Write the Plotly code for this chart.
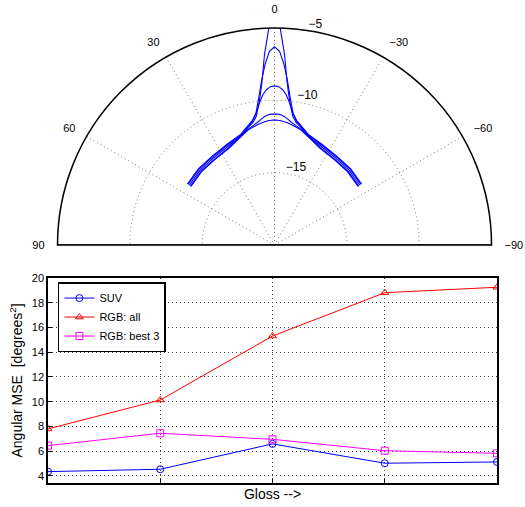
import plotly.graph_objects as go

# ---------------- polar data (dB-like values), half curves (symmetric) ----------------
half_theta = [0, 1.5, 3, 4.5, 6, 8, 10, 13, 17, 25, 35, 45, 55]
curve1 = [-3.5, -5.0, -6.8, -8.8, -10.0, -11.0, -11.4, -11.7, -12.05, -12.35, -12.55, -12.6, -12.7]
curve2 = [-6.3, -6.6, -7.5, -8.6, -9.7, -10.8, -11.3, -11.65, -12.1, -12.45, -12.65, -12.7, -12.8]
curve3 = [-9.0, -9.05, -9.25, -9.6, -10.1, -10.8, -11.25, -11.6, -12.0, -12.3, -12.5, -12.55, -12.65]
curve4 = [-10.95, -10.95, -11.0, -11.1, -11.25, -11.45, -11.6, -11.8, -12.1, -12.55, -12.75, -12.8, -12.9]
curve5 = [-11.35, -11.37, -11.4, -11.45, -11.5, -11.6, -11.7, -11.85, -12.15, -12.6, -12.8, -12.85, -12.95]
polar_curves = [curve1, curve2, curve3, curve4, curve5]

ang_ticks = [-90, -60, -30, 0, 30, 60, 90]
ang_labels = ["\u221290", "\u221260", "\u221230", "0", "30", "60", "90"]
rad_ticks = [-15, -10, -5]
rad_labels = ["\u221215", "\u221210", "\u22125"]

# ---------------- line chart data ----------------
gloss = [1, 2, 3, 4, 5]
suv = [4.35, 4.54, 6.59, 5.03, 5.13]
rgb_all = [7.8, 10.14, 15.31, 18.81, 19.25]
rgb_best3 = [6.45, 7.45, 6.96, 6.04, 5.83]

fig = go.Figure()

for c in polar_curves:
    th = [-t for t in half_theta[::-1]] + half_theta[1:]
    rr = c[::-1] + c[1:]
    fig.add_trace(go.Scatterpolar(r=rr, theta=th, mode="lines",
                                  line=dict(color="#0000ff", width=1.1),
                                  showlegend=False, hoverinfo="skip"))

# baseline of the half polar plot
fig.add_trace(go.Scatterpolar(r=[-5, -20, -5], theta=[90, 0, -90], mode="lines",
                              line=dict(color="#222222", width=1.5),
                              showlegend=False, hoverinfo="skip"))

# ring labels, placed just outside each ring (MATLAB style)
fig.add_trace(go.Scatterpolar(r=rad_ticks, theta=[-9] * len(rad_ticks),
                              mode="text", text=rad_labels, textposition="top right",
                              textfont=dict(size=12, color="black"), cliponaxis=False,
                              showlegend=False, hoverinfo="skip"))

fig.add_trace(go.Scatter(x=gloss, y=suv, name="SUV", mode="lines+markers",
                         line=dict(color="#0000ff", width=1),
                         marker=dict(symbol="circle-open", size=7, color="#0000ff")))
fig.add_trace(go.Scatter(x=gloss, y=rgb_all, name="RGB: all", mode="lines+markers",
                         line=dict(color="#ff0000", width=1),
                         marker=dict(symbol="triangle-up-open", size=7, color="#ff0000")))
fig.add_trace(go.Scatter(x=gloss, y=rgb_best3, name="RGB: best 3", mode="lines+markers",
                         line=dict(color="#ff00ff", width=1),
                         marker=dict(symbol="square-open", size=7, color="#ff00ff")))

font_family = "Liberation Sans, Arial, sans-serif"
grid_dash = "1px,3px"
fig.update_layout(
    width=525, height=507,
    margin=dict(l=48, r=28, t=20, b=24),
    paper_bgcolor="white", plot_bgcolor="white",
    font=dict(family=font_family, size=11, color="black"),
    polar=dict(
        domain=dict(x=[0.02, 0.989], y=[0.514, 0.9827]),
        sector=[0, 180],
        bgcolor="white",
        angularaxis=dict(rotation=90, direction="counterclockwise",
                         tickmode="array", tickvals=ang_ticks, ticktext=ang_labels,
                         showline=True, linecolor="black", linewidth=1.5,
                         showgrid=True, gridcolor="#777777", griddash=grid_dash, gridwidth=1,
                         ticks="outside", ticklen=10, tickcolor="rgba(0,0,0,0)",
                         tickfont=dict(size=11)),
        radialaxis=dict(range=[-20, -5], tickmode="array", tickvals=rad_ticks,
                        showticklabels=False,
                        showline=False, showgrid=True, gridcolor="#777777", griddash=grid_dash,
                        gridwidth=1, angle=85, ticks=""),
    ),
    xaxis=dict(domain=[0, 1], range=[1, 5], tickvals=gloss, showticklabels=False,
               ticks="inside", ticklen=4, tickcolor="black",
               showline=True, mirror=True, linecolor="black", linewidth=1.5,
               showgrid=True, gridcolor="#444444", griddash=grid_dash, gridwidth=1,
               zeroline=False, automargin=False,
               title=dict(text="Gloss -->", font=dict(size=14), standoff=5)),
    yaxis=dict(domain=[0, 0.4428], range=[3.43, 20],
               tickvals=[4, 6, 8, 10, 12, 14, 16, 18, 20],
               ticks="inside", ticklen=4, tickcolor="black",
               showline=True, mirror=True, linecolor="black", linewidth=1.5,
               showgrid=True, gridcolor="#444444", griddash=grid_dash, gridwidth=1,
               zeroline=False, tickfont=dict(size=11), automargin=False,
               title=dict(text="Angular MSE  [degrees<sup>2</sup>]", font=dict(size=14), standoff=6)),
    legend=dict(x=0.022, y=0.434, xanchor="left", yanchor="top",
                bordercolor="black", borderwidth=1.5, bgcolor="white",
                font=dict(size=11), tracegroupgap=0, itemwidth=30),
)

fig.write_html("out.html")
